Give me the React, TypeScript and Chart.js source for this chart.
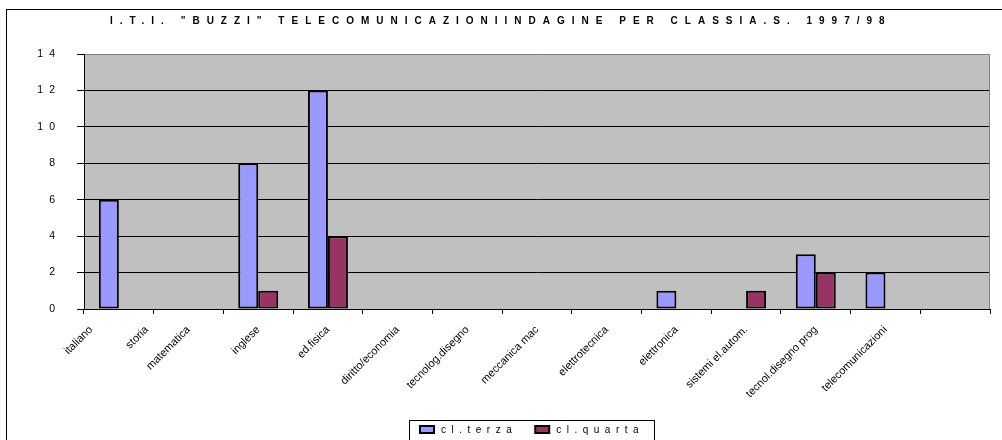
import React, { useEffect, useRef } from "react";
import { Chart, registerables } from "chart.js";

Chart.register(...registerables);

// ---- data ----
const TITLE = 'I.T.I. "BUZZI" TELECOMUNICAZIONIINDAGINE PER CLASSIA.S. 1997/98';
const categories: (string | string[])[] = [
  ["italiano", "storia"],
  "matematica",
  "inglese",
  "ed.fisica",
  "diritto/economia",
  "tecnolog.disegno",
  "meccanica mac",
  "elettrotecnica",
  "elettronica",
  "sistemi el.autom.",
  "tecnol.disegno prog",
  "telecomunicazioni",
  "",
];
const seriesNames = ["cl.terza", "cl.quarta"];
const terza = [6, 0, 8, 12, 0, 0, 0, 0, 1, 0, 3, 2, 0];
const quarta = [0, 0, 1, 4, 0, 0, 0, 0, 0, 1, 2, 0, 0];
const yTicks = [0, 2, 4, 6, 8, 10, 12, 14];

const FONT = '"Liberation Sans", Arial, sans-serif';

const spacedLabelsPlugin = {
  id: "spacedY",
  beforeDraw(chart: any) {
    const s: any = chart.scales.y;
    if (s && !s.__spaced) {
      const orig = s.drawLabels;
      s.drawLabels = function (area: any) {
        const ctx = chart.ctx;
        ctx.save();
        (ctx as any).letterSpacing = "6px";
        orig.call(this, area);
        ctx.restore();
      };
      s.__spaced = true;
    }
  },
};

// rotated category labels; a slot holding several names spreads them along the slot
const xLabelsPlugin = {
  id: "xLabels",
  afterDraw(chart: any) {
    const { ctx } = chart;
    const xs = chart.scales.x;
    const labels = chart.data.labels as (string | string[])[];
    const slot = xs.width / labels.length;
    ctx.save();
    ctx.font = `11px ${FONT}`;
    ctx.fillStyle = "#000";
    ctx.textAlign = "right";
    ctx.textBaseline = "middle";
    labels.forEach((lab, i) => {
      const parts = Array.isArray(lab) ? lab : [lab];
      const cx = xs.getPixelForValue(i);
      parts.forEach((p, j) => {
        const off = parts.length > 1 ? (j - (parts.length - 1) / 2) * 0.8 * slot : 0;
        ctx.save();
        ctx.translate(cx + off, xs.top + 19);
        ctx.rotate(-Math.PI / 4);
        ctx.fillText(p, 0, 0);
        ctx.restore();
      });
    });
    ctx.restore();
  },
};

const framePlugin = {
  id: "frame",
  beforeDraw(chart: any) {
    const { ctx, chartArea: a } = chart;
    ctx.save();
    ctx.fillStyle = "#C0C0C0";
    ctx.fillRect(a.left, a.top, a.right - a.left, a.bottom - a.top);
    ctx.restore();
  },
  afterDraw(chart: any) {
    const { ctx, chartArea: a } = chart;
    const W = chart.width;
    const H = chart.height;
    ctx.save();
    // right border of plot area
    ctx.fillStyle = "#808080";
    ctx.fillRect(Math.round(a.right) - 1, Math.round(a.top), 1, Math.round(a.bottom - a.top));

    // outer chart frame (continues past the right and bottom edges)
    ctx.fillStyle = "#000";
    ctx.fillRect(6, 9, W - 6, 1);
    ctx.fillRect(6, 9, 1, H - 9);

    // title with letter spacing
    ctx.font = `bold 10px ${FONT}`;
    (ctx as any).letterSpacing = "7px";
    ctx.textAlign = "left";
    ctx.textBaseline = "alphabetic";
    ctx.fillText(TITLE, 110, 24);

    // legend
    ctx.font = `10px ${FONT}`;
    (ctx as any).letterSpacing = "5.5px";
    ctx.textAlign = "left";
    const ds = chart.data.datasets;
    const sw = 16, gapText = 6, gapItem = 17, pad = 10;
    const widths = ds.map((d: any) => ctx.measureText(d.label).width);
    let total = pad * 2;
    ds.forEach((d: any, i: number) => {
      total += sw + gapText + widths[i] + (i < ds.length - 1 ? gapItem : 0);
    });
    const cx = (a.left + a.right) / 2 - 5;
    const left = Math.round(cx - total / 2);
    const top = 420;
    ctx.fillStyle = "#000";
    ctx.fillRect(left, top, Math.round(total), 1);
    ctx.fillRect(left, top, 1, H - top);
    ctx.fillRect(left + Math.round(total), top, 1, H - top);
    let x = left + pad;
    ds.forEach((d: any, i: number) => {
      ctx.fillStyle = "#000";
      ctx.fillRect(x, top + 5, sw, 9);
      ctx.fillStyle = d.backgroundColor;
      ctx.fillRect(x + 2, top + 7, sw - 4, 5);
      ctx.fillStyle = "#000";
      ctx.fillText(d.label, x + sw + gapText, top + 13);
      x += sw + gapText + widths[i] + gapItem;
    });
    ctx.restore();
  },
};

export default function App() {
  const ref = useRef<HTMLCanvasElement>(null);
  useEffect(() => {
    if (!ref.current) return;
    const chart = new Chart(ref.current, {
      type: "bar",
      data: {
        labels: categories,
        datasets: [
          {
            label: seriesNames[0],
            data: terza,
            backgroundColor: "#9999FF",
            borderColor: "#000",
            borderWidth: 2,
            borderSkipped: false,
            categoryPercentage: 0.574,
            barPercentage: 1,
          },
          {
            label: seriesNames[1],
            data: quarta,
            backgroundColor: "#993366",
            borderColor: "#000",
            borderWidth: 2,
            borderSkipped: false,
            categoryPercentage: 0.574,
            barPercentage: 1,
          },
        ],
      },
      options: {
        responsive: false,
        animation: false,
        events: [],
        layout: { padding: { left: 6, right: 12, top: 54, bottom: 0 } },
        plugins: {
          legend: { display: false },
          title: { display: false },
          tooltip: { enabled: false },
        },
        scales: {
          x: {
            grid: {
              offset: true,
              drawOnChartArea: false,
              tickLength: 5,
              color: "#000",
              lineWidth: 1,
            },
            border: { color: "#000", width: 1 },
            ticks: { display: false, autoSkip: false },
            afterFit: (s: any) => {
              s.height = 131;
            },
          },
          y: {
            min: 0,
            max: 14,
            afterBuildTicks: (s: any) => {
              s.ticks = yTicks.map((v) => ({ value: v }));
            },
            grid: {
              color: (c: any) => (c.tick && c.tick.value === 14 ? "#808080" : "#000"),
              tickColor: "#000",
              tickLength: 7,
              lineWidth: 1,
            },
            border: { color: "#000", width: 1 },
            ticks: {
              color: "#000",
              padding: 16,
              font: { family: FONT, size: 10.5 },
            },
            afterFit: (s: any) => {
              s.width = 78;
            },
          },
        },
      },
      plugins: [spacedLabelsPlugin, xLabelsPlugin, framePlugin],
    } as any);
    return () => chart.destroy();
  }, []);
  return (
    <div
      style={{
        position: "fixed",
        left: 0,
        top: 0,
        width: 1002,
        height: 440,
        overflow: "hidden",
        background: "#fff",
      }}
    >
      <canvas
        ref={ref}
        width={1002}
        height={440}
        style={{ position: "absolute", left: 0, top: 0, display: "block" }}
      />
    </div>
  );
}
